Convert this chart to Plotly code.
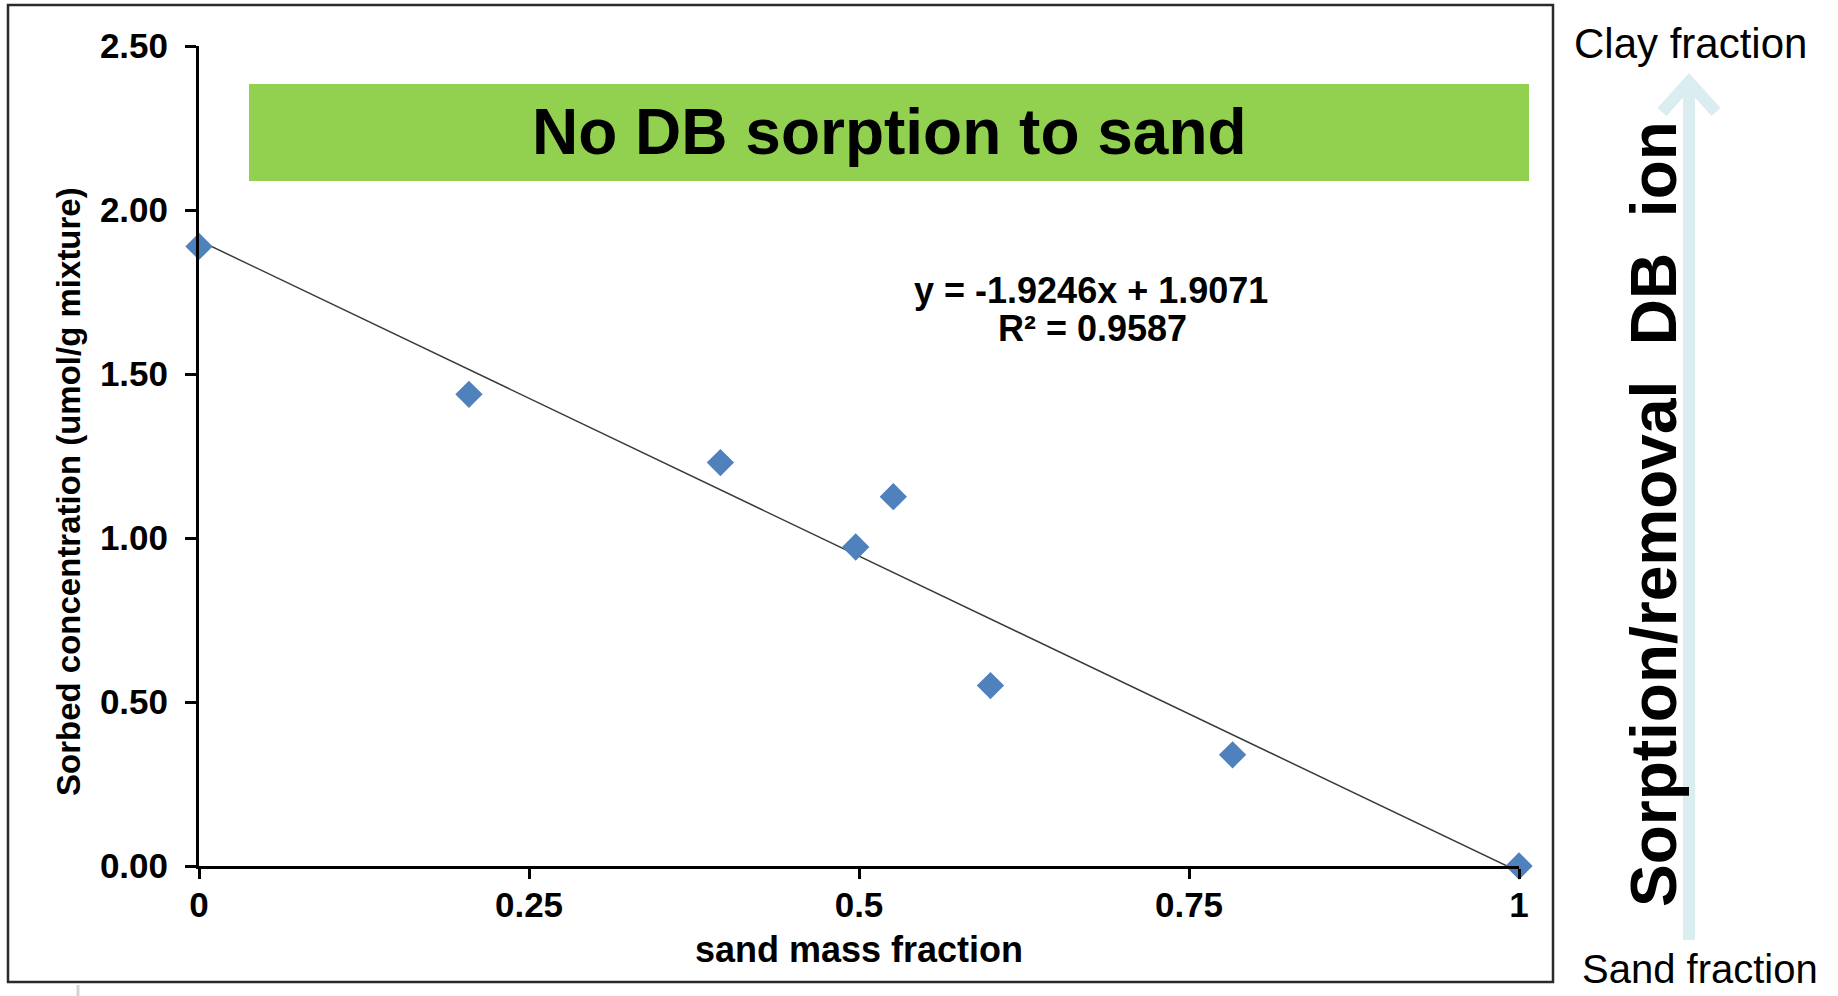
import plotly.graph_objects as go

# Sorbed DB concentration versus sand mass fraction of sand/clay mixtures
sand_fraction = [0.0, 0.2045, 0.395, 0.526, 0.4975, 0.5996, 0.783, 1.0]
sorbed_conc = [1.889, 1.438, 1.230, 1.126, 0.9725, 0.550, 0.339, 0.0]

# Linear trendline coefficients (as printed on the chart)
slope = -1.9246
intercept = 1.9071
r_squared = 0.9587

x_tickvals = [0, 0.25, 0.5, 0.75, 1]
x_ticktext = ["0", "0.25", "0.5", "0.75", "1"]
y_tickvals = [0, 0.5, 1.0, 1.5, 2.0, 2.5]

W, H = 1838, 996
ML, MR, MT, MB = 199, 319, 46, 130
PW, PH = W - ML - MR, H - MT - MB


def px(xp):
    """pixel column -> paper x"""
    return (xp - ML) / PW


def py(yp):
    """pixel row -> paper y"""
    return (H - MB - yp) / PH


FONT = "Arial, Liberation Sans, sans-serif"

fig = go.Figure()

trend_x = [0.0, 1.0]
trend_y = [intercept + slope * v for v in trend_x]
fig.add_trace(go.Scatter(
    x=trend_x, y=trend_y, mode="lines",
    line=dict(color="#3a3a3a", width=1.5),
    hoverinfo="skip", showlegend=False,
))
fig.add_trace(go.Scatter(
    x=sand_fraction, y=sorbed_conc, mode="markers",
    marker=dict(symbol="diamond", size=21, color="#4F81BD", line=dict(width=0)),
    cliponaxis=False, showlegend=False,
))

fig.update_xaxes(
    range=[0, 1], tickvals=x_tickvals, ticktext=x_ticktext,
    showline=True, linewidth=3, linecolor="black", mirror=False,
    ticks="outside", ticklen=10, tickwidth=3, tickcolor="black",
    showgrid=False, zeroline=False,
    tickfont=dict(family=FONT, size=35, color="black", weight="bold"),
    ticklabelstandoff=-4,
    title=dict(text="sand mass fraction", standoff=14,
               font=dict(family=FONT, size=36, color="black", weight="bold")),
)
fig.update_yaxes(
    range=[0, 2.5], tickvals=y_tickvals, tickformat=".2f",
    showline=True, linewidth=3, linecolor="black", mirror=False,
    ticks="outside", ticklen=11, tickwidth=3, tickcolor="black",
    showgrid=False, zeroline=False,
    tickfont=dict(family=FONT, size=35, color="black", weight="bold"),
    ticklabelstandoff=10,
)

shapes = [
    # outer chart frame
    dict(type="rect", xref="paper", yref="paper",
         x0=px(8), x1=px(1553), y0=py(982), y1=py(5),
         line=dict(color="#2a2a2a", width=2.5), fillcolor="rgba(0,0,0,0)", layer="below"),
    # green banner
    dict(type="rect", xref="paper", yref="paper",
         x0=px(249), x1=px(1529), y0=py(181), y1=py(84),
         line=dict(width=0), fillcolor="#92D050", layer="below"),
    # upward arrow shaft
    dict(type="line", xref="paper", yref="paper",
         x0=px(1689), x1=px(1689), y0=py(940), y1=py(82),
         line=dict(color="#DAEDF0", width=12), layer="below"),
    # arrow head (open chevron)
    dict(type="path", xref="paper", yref="paper",
         path=(f"M {px(1662)},{py(112)} L {px(1689)},{py(82)} L {px(1716)},{py(112)}"),
         line=dict(color="#DAEDF0", width=12), layer="below"),
    # small grey mark below frame
    dict(type="line", xref="paper", yref="paper",
         x0=px(78), x1=px(78), y0=py(996), y1=py(985),
         line=dict(color="#d4d4d4", width=3), layer="below"),
]

annotations = [
    # y-axis title
    dict(text="<b>Sorbed concentration (umol/g mixture)</b>", x=px(68), y=py(492),
         xref="paper", yref="paper", xanchor="center", yanchor="middle",
         textangle=-90, showarrow=False,
         font=dict(family=FONT, size=33, color="black")),
    dict(text="<b>No DB sorption to sand</b>", x=px(889), y=py(132),
         xref="paper", yref="paper", xanchor="center", yanchor="middle",
         showarrow=False, font=dict(family=FONT, size=64, color="black")),
    dict(text=f"<b>y = {slope}x + {intercept}</b>", x=px(1091), y=py(290),
         xref="paper", yref="paper", xanchor="center", yanchor="middle",
         showarrow=False, font=dict(family=FONT, size=36, color="black")),
    dict(text=f"<b>R² = {r_squared}</b>", x=px(1092), y=py(328),
         xref="paper", yref="paper", xanchor="center", yanchor="middle",
         showarrow=False, font=dict(family=FONT, size=36, color="black")),
    dict(text="Clay fraction", x=px(1690), y=py(43),
         xref="paper", yref="paper", xanchor="center", yanchor="middle",
         showarrow=False, font=dict(family=FONT, size=42, color="black")),
    dict(text="Sand fraction", x=px(1700), y=py(969),
         xref="paper", yref="paper", xanchor="center", yanchor="middle",
         showarrow=False, font=dict(family=FONT, size=40, color="black")),
    dict(text="<b>Sorption/removal\u00a0 DB\u00a0 ion</b>", x=px(1654), y=py(514),
         xref="paper", yref="paper", xanchor="center", yanchor="middle",
         textangle=-90, showarrow=False,
         font=dict(family=FONT, size=64, color="black")),
]

fig.update_layout(
    width=W, height=H,
    margin=dict(l=ML, r=MR, t=MT, b=MB, pad=0),
    paper_bgcolor="white", plot_bgcolor="white",
    shapes=shapes, annotations=annotations,
    showlegend=False,
)

fig.write_html("out.html")
